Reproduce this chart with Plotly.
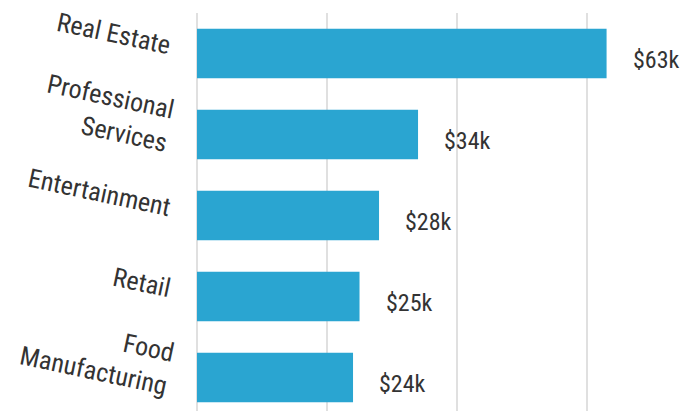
import plotly.graph_objects as go

industries = ["Real Estate", "Professional<br>Services", "Entertainment", "Retail", "Food<br>Manufacturing"]
values = [63000, 34000, 28000, 25000, 24000]
value_labels = ["$63k", "$34k", "$28k", "$25k", "$24k"]

BAR_COLOR = "#2aa5d1"
TEXT_COLOR = "#333333"
FONT = "Roboto Condensed, Roboto, sans-serif"

fig = go.Figure(go.Bar(
    x=values,
    y=industries,
    orientation="h",
    marker=dict(color=BAR_COLOR, line=dict(width=0)),
    width=0.61,
    hoverinfo="skip",
))

for v, lab, cat in zip(values, value_labels, industries):
    fig.add_annotation(
        x=v, y=cat, text=lab, showarrow=False,
        xanchor="left", yanchor="middle", xshift=24, yshift=-6,
        font=dict(family=FONT, size=24, color=TEXT_COLOR),
    )

# page body adds ~8px offset, so margins are trimmed to compensate
fig.update_layout(
    width=687,
    height=411,
    margin=dict(l=189, r=0, t=5, b=0),
    paper_bgcolor="white",
    plot_bgcolor="white",
    showlegend=False,
    font=dict(family=FONT, color=TEXT_COLOR),
)
fig.update_xaxes(
    range=[0, 76600],
    dtick=20000,
    showticklabels=False,
    showgrid=True,
    gridcolor="#e0e0e0",
    gridwidth=2,
    zeroline=True,
    zerolinecolor="#e0e0e0",
    zerolinewidth=2,
)
fig.update_yaxes(
    range=[4.512, -0.5],
    tickangle=12,
    tickfont=dict(family=FONT, size=26, color=TEXT_COLOR),
    ticks="",
    ticklabelstandoff=25,
    ticklabelshift=8,
    showgrid=False,
)

fig.write_html("out.html")
